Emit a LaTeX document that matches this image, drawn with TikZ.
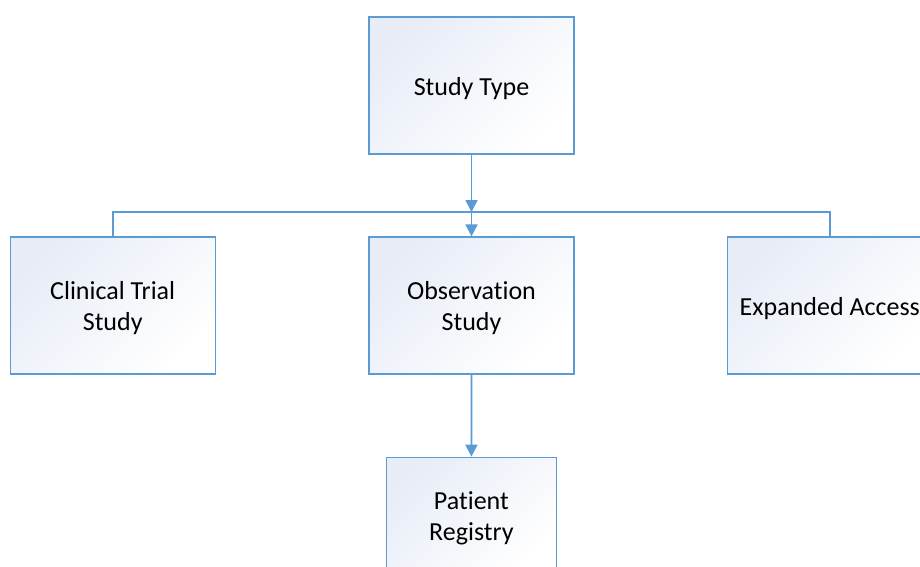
\documentclass[tikz,border=0pt]{standalone}
\usepackage{fontspec}
\setmainfont{Carlito}[Ligatures=NoCommon]
\usetikzlibrary{arrows.meta}
\definecolor{lineblue}{RGB}{91,155,213}
\definecolor{boxblue}{RGB}{231,236,247}
\begin{document}
\begin{tikzpicture}[x=1pt,y=-1pt,
  box/.style={draw=lineblue, line width=1.2pt, top color=boxblue, middle color=white!75!boxblue, bottom color=white, shading angle=45,
    minimum width=205pt, minimum height=137pt, inner sep=0pt},
  txt/.style={inner sep=0pt, align=center, font=\fontsize{26}{31}\selectfont, yshift=-3pt},
  conn/.style={draw=lineblue, line width=1.7pt},
  arr/.style={conn, -{Triangle[length=12pt,width=12pt]}}]
\useasboundingbox (0,0) rectangle (920,566);
\clip (0,0) rectangle (920,566);
\fill[white] (0,0) rectangle (920,566);
\node[box] (st) at (471.5,85.5) {};
\node[box] (ct) at (112.7,305.5) {};
\node[box] (obs) at (471.5,305.5) {};
\node[box] (ea) at (829.8,305.5) {};
\node[box, minimum width=170pt, minimum height=116pt] (pr) at (471.4,515.3) {};
\node[txt] (stl) at (st.center) {Study Type};
\node[txt] (ctl) at (ct.center) {Clinical Trial\\Study};
\node[txt] (obsl) at (obs.center) {Observation\\Study};
\node[txt] (eal) at (ea.center) {Expanded Access};
\node[txt] (prl) at (pr.center) {Patient\\Registry};
\coordinate (j) at (471.5,212);
\draw[conn] (ct.north) -- (ct.north |- j) -- (ea.north |- j) -- (ea.north);
\draw[arr] (st.south) -- (j);
\draw[arr] (j) -- (obs.north);
\draw[arr] (obs.south) -- (pr.north);
\end{tikzpicture}
\end{document}
